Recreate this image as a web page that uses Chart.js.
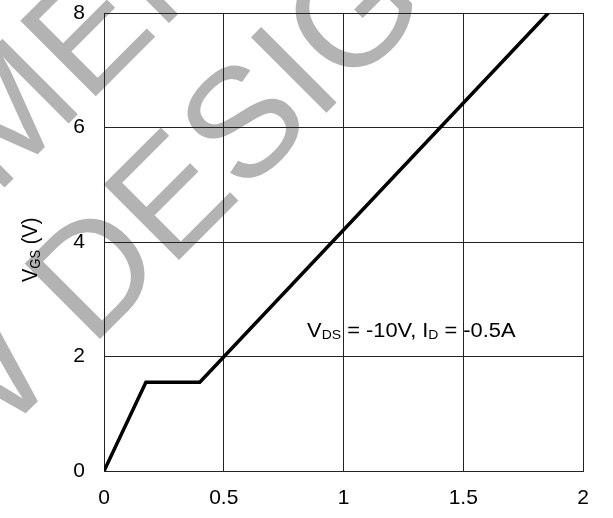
<!DOCTYPE html>
<html>
<head>
<meta charset="utf-8">
<script src="https://cdn.jsdelivr.net/npm/chart.js@4.4.1/dist/chart.umd.min.js"></script>
<style>
  html, body { margin: 0; padding: 0; background: #fff; }
  #wrap { width: 613px; height: 518px; }
</style>
</head>
<body>
<div id="wrap"><canvas id="gate"></canvas></div>
<script>
// gate charge curve: x = Qg (nC), y = VGS (V)
var chargeX = [0, 0.175, 0.40, 1.855];
var vgsY = [0, 1.55, 1.55, 8];

var xTicks = [0, 0.5, 1, 1.5, 2];
var xTickLabels = ['0', '0.5', '1', '1.5', '2'];
var yTicks = [0, 2, 4, 6, 8];
var yTickLabels = ['0', '2', '4', '6', '8'];

var FONT = '"Liberation Sans", Arial, sans-serif';
var GRID = '#222';

// watermark behind the grid
var watermark = {
    id: 'watermark',
    beforeDraw: function (chart) {
        var ctx = chart.ctx;
        ctx.save();
        ctx.fillStyle = '#fff';
        ctx.fillRect(0, 0, chart.width, chart.height);
        ctx.fillStyle = '#b3b3b3';
        ctx.font = '155px ' + FONT;
        ctx.textAlign = 'center';
        ctx.textBaseline = 'alphabetic';
        var lines = [['NOT RECOMMENDED FOR', 29, 163], ['NEW DESIGN', 158, 281]];
        lines.forEach(function (l) {
            ctx.save();
            ctx.translate(l[1], l[2]);
            ctx.rotate(-Math.PI / 4);
            ctx.fillText(l[0], 0, 0);
            ctx.restore();
        });
        ctx.restore();
    }
};

// draws text runs with subscripts
function drawRuns(ctx, runs, main, sub, drop) {
    var x = 0;
    runs.forEach(function (r) {
        ctx.font = (r[1] ? sub : main) + 'px ' + FONT;
        ctx.fillText(r[0], x, r[1] ? drop : 0);
        x += ctx.measureText(r[0]).width;
    });
}

var labels = {
    id: 'labels',
    afterDatasetsDraw: function (chart) {
        var ctx = chart.ctx;
        var xs = chart.scales.x, ys = chart.scales.y;
        ctx.save();
        ctx.fillStyle = '#000';
        ctx.textAlign = 'left';
        ctx.textBaseline = 'alphabetic';

        // condition note
        ctx.save();
        ctx.translate(xs.getPixelForValue(0.848), ys.getPixelForValue(2.346));
        ctx.scale(1.12, 1);
        drawRuns(ctx, [['V', 0], ['DS', 1], [' = -10V, I', 0], ['D', 1], [' = -0.5A', 0]], 19.5, 12.5, 2);
        ctx.restore();

        // y axis title
        ctx.save();
        ctx.translate(37, 282);
        ctx.rotate(-Math.PI / 2);
        ctx.scale(1, 1.12);
        drawRuns(ctx, [['V', 0], ['GS', 1], [' (V)', 0]], 20, 13, 3);
        ctx.restore();

        ctx.restore();
    }
};

new Chart(document.getElementById('gate'), {
    type: 'scatter',
    data: {
        datasets: [{
            data: chargeX.map(function (x, i) { return { x: x, y: vgsY[i] }; }),
            showLine: true,
            borderColor: '#000',
            borderWidth: 3.5,
            pointRadius: 0,
            fill: false,
            tension: 0
        }]
    },
    options: {
        responsive: true,
        maintainAspectRatio: false,
        animation: false,
        layout: { padding: { left: 0, right: 30, top: 13, bottom: 0 } },
        plugins: { legend: { display: false }, tooltip: { enabled: false } },
        scales: {
            x: {
                type: 'linear',
                min: 0,
                max: 2,
                afterBuildTicks: function (s) { s.ticks = xTicks.map(function (v) { return { value: v }; }); },
                afterFit: function (s) { s.height = 47; s.paddingLeft = 0; s.paddingRight = 0; },
                grid: { color: GRID, lineWidth: 1, drawTicks: false },
                border: { color: GRID, width: 1 },
                ticks: {
                    padding: 15,
                    color: '#000',
                    font: { family: FONT, size: 21 },
                    maxRotation: 0,
                    callback: function (v, i) { return xTickLabels[i]; }
                }
            },
            y: {
                type: 'linear',
                min: 0,
                max: 8,
                afterBuildTicks: function (s) { s.ticks = yTicks.map(function (v) { return { value: v }; }); },
                afterFit: function (s) { s.width = 104; s.paddingTop = 0; s.paddingBottom = 0; },
                grid: { color: GRID, lineWidth: 1, drawTicks: false },
                border: { color: GRID, width: 1 },
                ticks: {
                    padding: 19,
                    color: '#000',
                    font: { family: FONT, size: 21 },
                    callback: function (v, i) { return yTickLabels[i]; }
                }
            }
        }
    },
    plugins: [watermark, labels]
});
</script>
</body>
</html>
